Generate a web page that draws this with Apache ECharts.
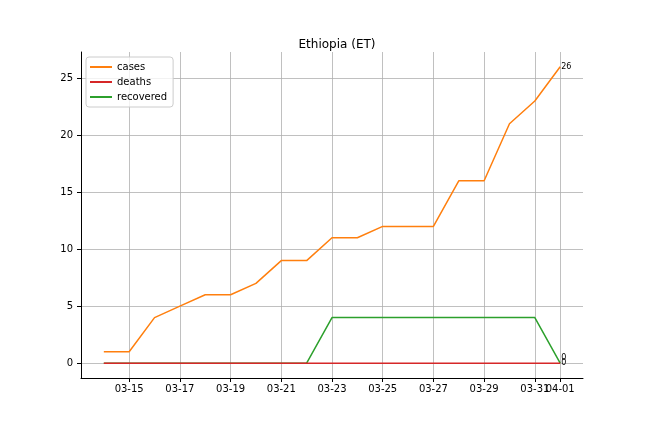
<!DOCTYPE html>
<html>
<head>
<meta charset="utf-8">
<script src="https://cdn.jsdelivr.net/npm/echarts@6/dist/echarts.min.js"></script>
<style>html,body{margin:0;padding:0;background:#fff}#chart{width:648px;height:432px}</style>
</head>
<body>
<div id="chart"></div>
<script>
// 数据
const dates = ['03-14','03-15','03-16','03-17','03-18','03-19','03-20','03-21','03-22','03-23',
  '03-24','03-25','03-26','03-27','03-28','03-29','03-30','03-31','04-01'];
const cases = [1,1,4,5,6,6,7,9,9,11,11,12,12,12,16,16,21,23,26];
const deaths = [0,0,0,0,0,0,0,0,0,0,0,0,0,0,0,0,0,0,0];
const recovered = [0,0,0,0,0,0,0,0,0,4,4,4,4,4,4,4,4,4,0];
const xTicks = [1,3,5,7,9,11,13,15,17,18];
const xLabelsMain = [1,3,5,7,9,11,13,15,17];
const xLabelsLast = [18];
const yTicks = [0,5,10,15,20,25];

const font = 'DejaVu Sans';
const chart = echarts.init(document.getElementById('chart'));

function toPairs(arr) {
  return arr.map((v, i) => [i, v]);
}

function makeSeries(name, arr, color, z, labelOffset) {
  return {
    name: name,
    type: 'line',
    xAxisIndex: 0,
    data: toPairs(arr),
    symbol: 'none',
    z: z,
    lineStyle: {color: color, width: 1.5},
    itemStyle: {color: color},
    endLabel: {
      show: true,
      color: '#000',
      fontFamily: font,
      fontSize: 8,
      distance: 1,
      offset: labelOffset,
      formatter: p => String(p.value[1])
    },
    animation: false
  };
}

const dateLabel = {
  show: true,
  hideOverlap: false,
  fontFamily: font,
  fontSize: 10,
  color: '#000',
  margin: 6,
  formatter: v => dates[Math.round(v)] || ''
};

const option = {
  animation: false,
  title: {
    text: 'Ethiopia (ET)',
    left: 332,
    textAlign: 'center',
    top: 34,
    textStyle: {fontFamily: font, fontSize: 12, fontWeight: 'normal', color: '#000'}
  },
  legend: {
    orient: 'vertical',
    left: 86,
    top: 57,
    padding: [5, 6, 5, 4],
    itemGap: 5,
    itemWidth: 22,
    itemHeight: 2,
    borderColor: '#ccc',
    borderWidth: 1,
    borderRadius: 3,
    backgroundColor: 'rgba(255,255,255,0.8)',
    icon: 'rect',
    textStyle: {fontFamily: font, fontSize: 10, color: '#000'},
    data: ['cases', 'deaths', 'recovered']
  },
  grid: {left: 81, right: 65, top: 52, bottom: 54},
  xAxis: [{
    type: 'value',
    min: -0.9,
    max: 18.9,
    axisLine: {show: true, onZero: false, lineStyle: {color: '#000', width: 1}},
    axisTick: {show: true, length: 4, inside: false, customValues: xTicks, lineStyle: {color: '#000'}},
    axisLabel: Object.assign({customValues: xLabelsMain}, dateLabel),
    splitLine: {show: true, lineStyle: {color: '#b0b0b0', width: 0.8}}
  }, {
    type: 'value',
    position: 'bottom',
    min: -0.9,
    max: 18.9,
    axisLine: {show: false, onZero: false},
    axisTick: {show: false, customValues: xLabelsLast},
    axisLabel: Object.assign({customValues: xLabelsLast}, dateLabel),
    splitLine: {show: false}
  }],
  yAxis: {
    type: 'value',
    min: -1.3,
    max: 27.3,
    axisLine: {show: true, onZero: false, lineStyle: {color: '#000', width: 1}},
    axisTick: {show: true, length: 4, inside: false, customValues: yTicks, lineStyle: {color: '#000'}},
    axisLabel: {
      show: true,
      customValues: yTicks,
      fontFamily: font,
      fontSize: 10,
      color: '#000',
      margin: 8
    },
    splitLine: {show: true, lineStyle: {color: '#b0b0b0', width: 0.8}}
  },
  series: [
    makeSeries('cases', cases, '#ff7f0e', 3, [0, 0]),
    makeSeries('deaths', deaths, '#d62728', 4, [0, -5]),
    makeSeries('recovered', recovered, '#2ca02c', 2, [0, 0])
  ]
};
chart.setOption(option);
</script>
</body>
</html>
